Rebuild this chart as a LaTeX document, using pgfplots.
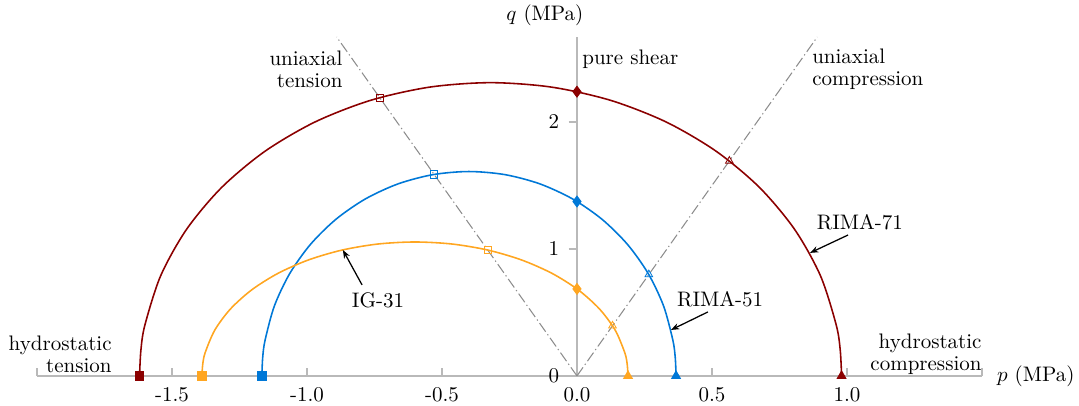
\documentclass[border=0pt]{standalone}
\usepackage{pgfplots}
\pgfplotsset{compat=1.18}
\usetikzlibrary{arrows.meta}
\definecolor{cred}{RGB}{139,0,0}
\definecolor{cblue}{RGB}{0,120,215}
\definecolor{corange}{RGB}{255,166,33}
\definecolor{caxis}{RGB}{185,185,185}
\definecolor{cdash}{RGB}{140,140,140}
\begin{document}
\begin{tikzpicture}
\begin{axis}[
  scale only axis, width=450pt, height=161.4pt,
  xmin=-2, xmax=1.5, ymin=0, ymax=2.67,
  axis x line*=bottom, axis y line*=middle,
  hide obscured x ticks=false, hide obscured y ticks=false,
  axis line style={caxis, line width=0.8pt},
  every tick/.style={caxis, line width=0.8pt},
  tick align=center, major tick length=4pt,
  x tick style={yshift=2pt},
  y tick style={xshift=-2pt},
  yticklabel style={xshift=-3pt},
  xtick={-2,-1.5,-1,-0.5,0,0.5,1,1.5},
  xticklabels={,-1.5,-1.0,-0.5,0.0,0.5,1.0,},
  ytick={0,1,2},
  clip=false,
]
% stress paths
\addplot[cdash, line width=0.5pt, dash pattern=on 5pt off 1.5pt on 0.6pt off 1.5pt] coordinates {(0,0) (-0.89,2.67)};
\addplot[cdash, line width=0.5pt, dash pattern=on 5pt off 1.5pt on 0.6pt off 1.5pt] coordinates {(0,0) (0.89,2.67)};
% RIMA-71
\addplot[cred, line width=0.75pt, smooth] coordinates {
(0.98,0) (0.9751,0.2014) (0.9602,0.4010) (0.9016,0.7900) (0.8058,1.155) (0.6758,1.4849)
(0.5156,1.7695) (0.33,2.0005) (0.1246,2.1707) (-0.0943,2.2749) (-0.32,2.31)
(-0.5457,2.2749) (-0.7646,2.1707) (-0.97,2.0005) (-1.1556,1.7695) (-1.3158,1.4849)
(-1.4458,1.155) (-1.5416,0.79) (-1.6002,0.401) (-1.6151,0.2014) (-1.62,0)};
% RIMA-51
\addplot[cblue, line width=0.75pt, smooth] coordinates {
(0.367,0) (0.3641,0.1404) (0.3553,0.2795) (0.3208,0.5506) (0.2642,0.805) (0.1875,1.0349)
(0.0930,1.2333) (-0.0165,1.3943) (-0.1377,1.5129) (-0.2668,1.5855) (-0.40,1.61)
(-0.5332,1.5855) (-0.6623,1.5129) (-0.7835,1.3943) (-0.8930,1.2333) (-0.9875,1.0349)
(-1.0642,0.805) (-1.1208,0.5506) (-1.1553,0.2795) (-1.1641,0.1404) (-1.167,0)};
% IG-31
\addplot[corange, line width=0.75pt, smooth] coordinates {
(0.189,0) (0.1860,0.0920) (0.1770,0.1832) (0.1414,0.3608) (0.0833,0.5275) (0.0044,0.6782)
(-0.0928,0.8081) (-0.2055,0.9136) (-0.3302,0.9914) (-0.4630,1.0390) (-0.60,1.055)
(-0.7370,1.0390) (-0.8698,0.9914) (-0.9945,0.9136) (-1.1072,0.8081) (-1.2044,0.6782)
(-1.2833,0.5275) (-1.3414,0.3608) (-1.3770,0.1832) (-1.3860,0.0920) (-1.389,0)};
% markers RIMA-71
\addplot[only marks, mark=square*, mark size=2pt, cred] coordinates {(-1.62,0)};
\addplot[only marks, mark=triangle*, mark size=2.4pt, cred] coordinates {(0.98,0)};
\addplot[only marks, mark=diamond*, mark size=2.6pt, cred] coordinates {(0,2.2389)};
\addplot[only marks, mark=square, mark size=1.7pt, cred, mark options={fill=white}] coordinates {(-0.7306,2.1918)};
\addplot[only marks, mark=triangle, mark size=2.1pt, cred, mark options={fill=white}] coordinates {(0.5644,1.6931)};
% markers RIMA-51
\addplot[only marks, mark=square*, mark size=2pt, cblue] coordinates {(-1.167,0)};
\addplot[only marks, mark=triangle*, mark size=2.4pt, cblue] coordinates {(0.367,0)};
\addplot[only marks, mark=diamond*, mark size=2.6pt, cblue] coordinates {(0,1.3737)};
\addplot[only marks, mark=square, mark size=1.7pt, cblue, mark options={fill=white}] coordinates {(-0.5290,1.5871)};
\addplot[only marks, mark=triangle, mark size=2.1pt, cblue, mark options={fill=white}] coordinates {(0.2661,0.7983)};
% markers IG-31
\addplot[only marks, mark=square*, mark size=2pt, corange] coordinates {(-1.389,0)};
\addplot[only marks, mark=triangle*, mark size=2.4pt, corange] coordinates {(0.189,0)};
\addplot[only marks, mark=diamond*, mark size=2.6pt, corange] coordinates {(0,0.6851)};
\addplot[only marks, mark=square, mark size=1.7pt, corange, mark options={fill=white}] coordinates {(-0.3305,0.9916)};
\addplot[only marks, mark=triangle, mark size=2.1pt, corange, mark options={fill=white}] coordinates {(0.1316,0.3949)};
% labels
\node[anchor=center] at (axis cs:-0.119,2.843) {$q$ (MPa)};
\node[anchor=west, inner sep=0pt] at (axis cs:1.5,0) [xshift=7pt] {$p$ (MPa)};
\node[anchor=west, inner sep=0pt] at (axis cs:0.0185,2.496) {pure shear};
\node[anchor=east, inner sep=0pt, align=right, font=\fontsize{10pt}{10.5pt}\selectfont] at (axis cs:-0.867,2.417) {uniaxial\\tension};
\node[anchor=west, inner sep=0pt, align=left, font=\fontsize{10pt}{10.5pt}\selectfont] at (axis cs:0.870,2.417) {uniaxial\\compression};
\node[anchor=east, inner sep=0pt, align=right, font=\fontsize{10pt}{10.5pt}\selectfont] at (axis cs:-1.722,0.169) {hydrostatic\\tension};
\node[anchor=east, inner sep=0pt, align=right, font=\fontsize{10pt}{10.5pt}\selectfont] at (axis cs:1.5,0.173) {hydrostatic\\compression};
\node at (axis cs:1.048,1.213) {RIMA-71};
\node at (axis cs:0.530,0.606) {RIMA-51};
\node at (axis cs:-0.737,0.598) {IG-31};
\draw[-{Stealth[length=4pt,width=3pt]}, line width=0.6pt] (axis cs:1.004,1.110) -- (axis cs:0.863,0.969);
\draw[-{Stealth[length=4pt,width=3pt]}, line width=0.6pt] (axis cs:0.485,0.504) -- (axis cs:0.348,0.362);
\draw[-{Stealth[length=4pt,width=3pt]}, line width=0.6pt] (axis cs:-0.796,0.717) -- (axis cs:-0.867,0.992);
\end{axis}
\pgfresetboundingbox
\path[use as bounding box] (-17.6pt,-14.3pt) rectangle (496.2pt,179pt);
\end{tikzpicture}
\end{document}
